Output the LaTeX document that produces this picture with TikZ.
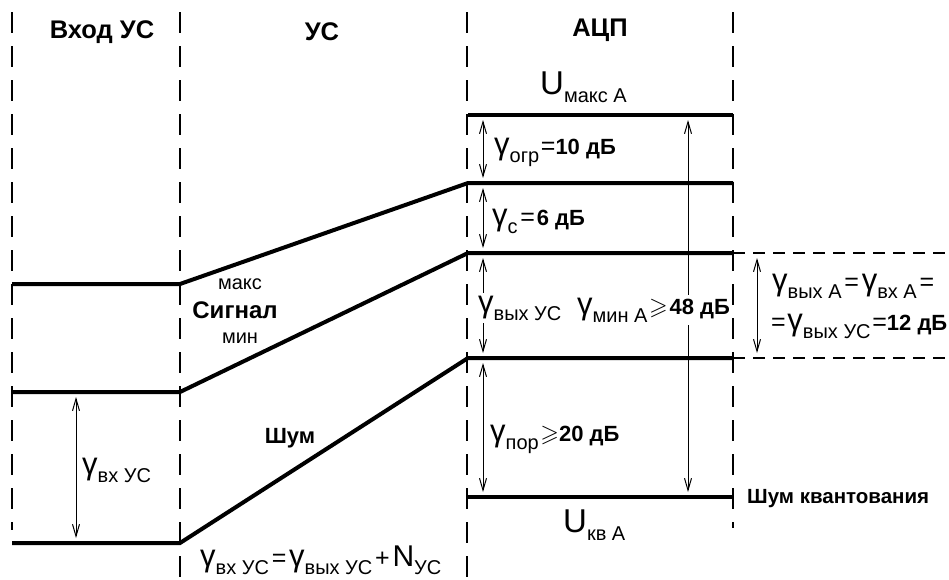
\documentclass[tikz,border=0pt]{standalone}
\usepackage{amssymb}
\usepackage{fontspec}
\setmainfont{Liberation Sans}
\usetikzlibrary{arrows.meta}
\newcommand{\gsym}{{\fontsize{31}{31}\selectfont γ}}
\newcommand{\sbs}[1]{\raisebox{-8pt}{\fontsize{20}{20}\selectfont #1}}
\newcommand{\bigU}{{\fontsize{33}{33}\selectfont U}}
\newcommand{\bval}[1]{{\fontsize{22}{22}\selectfont\bfseries #1}}
\newcommand{\eqs}{{\fontsize{25}{25}\selectfont =}}
\newcommand{\geqs}{{\fontsize{24}{24}\selectfont$\geqslant$}}
\begin{document}
\begin{tikzpicture}[x=1pt,y=-1pt,
  vdash/.style={line width=1.2pt,dash pattern=on 21pt off 13pt},
  hdash/.style={line width=1.2pt,dash pattern=on 12pt off 8pt},
  level/.style={line width=4pt},
  dim/.style={line width=1pt,{Straight Barb[length=12pt,width=7pt]}-{Straight Barb[length=12pt,width=7pt]},shorten >=5pt,shorten <=5pt},
  lbl/.style={inner sep=0pt,anchor=base west},
  head/.style={font=\fontsize{25.5}{25.5}\selectfont\bfseries,inner sep=0pt}
]
\useasboundingbox (0,0) rectangle (949,579);
% vertical dashed separators
\coordinate (v1t) at (12,12);   \coordinate (v1b) at (12,530);
\coordinate (v2t) at (180,12);  \coordinate (v2b) at (180,579);
\coordinate (v3t) at (467,12);  \coordinate (v3b) at (467,579);
\coordinate (v4t) at (733,12);  \coordinate (v4b) at (733,528);
\draw[vdash] (v1t) -- (v1b);
\draw[vdash] (v2t) -- (v2b);
\draw[vdash] (v3t) -- (v3b);
\draw[vdash] (v4t) -- (v4b);
% headings
\node[head] (h1) at (102,32) {Вход УС};
\node[head] (h2) at (322,32) {УС};
\node[head] (h3) at (600,30) {АЦП};
% level coordinates
\coordinate (ua1) at (468,115); \coordinate (ua2) at (733,115);
\coordinate (ub1) at (468,183); \coordinate (ub2) at (733,183);
\coordinate (uc1) at (468,253); \coordinate (uc2) at (733,253);
\coordinate (ud1) at (468,358); \coordinate (ud2) at (733,358);
\coordinate (ue1) at (468,497); \coordinate (ue2) at (733,497);
\coordinate (la) at (12,284);  \coordinate (lb) at (180,284);
\coordinate (ma) at (12,392);  \coordinate (mb) at (180,392);
\coordinate (na) at (12,543);  \coordinate (nb) at (180,543);
\coordinate (uc3) at (949,253); \coordinate (ud3) at (949,358);
% levels
\draw[level] (ua1) -- (ua2);
\draw[level] (la) -- (lb) -- (ub1) -- (ub2);
\draw[level] (ma) -- (mb) -- (uc1) -- (uc2);
\draw[level] (na) -- (nb) -- (ud1) -- (ud2);
\draw[level] (ue1) -- (ue2);
\draw[hdash] (uc2) -- (uc3);
\draw[hdash] (ud2) -- (ud3);
% dimension arrows
\coordinate (a1) at (483,115); \coordinate (a2) at (483,183);
\coordinate (a3) at (483,253); \coordinate (a4) at (483,358);
\coordinate (a5) at (483,497);
\coordinate (b1) at (688,115); \coordinate (b2) at (688,497);
\coordinate (c1) at (757,253); \coordinate (c2) at (757,358);
\coordinate (d1) at (76,392);  \coordinate (d2) at (76,543);
\draw[dim] (a1) -- (a2);
\draw[dim] (a2) -- (a3);
\draw[dim] (a3) -- (a4);
\draw[dim] (a4) -- (a5);
\draw[dim] (b1) -- (b2);
\draw[dim] (c1) -- (c2);
\draw[dim] (d1) -- (d2);
% labels
\node[lbl] (umax) at (540,94) {\bigU\sbs{макс А}};
\node[lbl] (gogr) at (494,154) {\gsym\sbs{огр}\,\eqs\bval{10 дБ}};
\node[lbl] (gc) at (492,225) {\gsym\sbs{с}\;\eqs\,\bval{6 дБ}};
\node[lbl,fill=white,inner ysep=3pt] (gvyx) at (478,312) {\gsym\sbs{вых УС}};
\node[lbl,fill=white,inner xsep=2pt,inner ysep=3pt] (gmin) at (575,314) {\gsym\sbs{мин А}\,\geqs\,\bval{48 дБ}};
\node[lbl] (gpor) at (490,441) {\gsym\sbs{пор}\,\geqs\bval{20 дБ}};
\node[lbl] (shq) at (747,503) {{\fontsize{20.5}{20.5}\selectfont\bfseries Шум квантования}};
\node[lbl] (ukv) at (563,532) {\bigU\sbs{кв А}};
\node[lbl] (r1) at (772,290) {\gsym\sbs{вых А}\;\eqs\;\gsym\sbs{вх А}\;\eqs};
\node[lbl] (r2) at (771,330) {\eqs\,\gsym\sbs{вых УС}\,\eqs\bval{12 дБ}};
\node[inner sep=0pt] (maks) at (240,284) {\fontsize{20}{20}\selectfont макс};
\node[inner sep=0pt] (sig) at (235,310) {\fontsize{24}{24}\selectfont\bfseries Сигнал};
\node[inner sep=0pt] (min) at (240,338) {\fontsize{20}{20}\selectfont мин};
\node[inner sep=0pt] (shum) at (290,438) {\fontsize{22}{22}\selectfont\bfseries Шум};
\node[lbl] (gvx) at (82,474) {\gsym\sbs{вх УС}};
\node[lbl] (form) at (200,566) {\gsym\sbs{вх УС}\;\eqs\;\gsym\sbs{вых УС}\;{\fontsize{25}{25}\selectfont +}\;{\fontsize{30}{30}\selectfont N}\sbs{УС}};
\end{tikzpicture}
\end{document}
